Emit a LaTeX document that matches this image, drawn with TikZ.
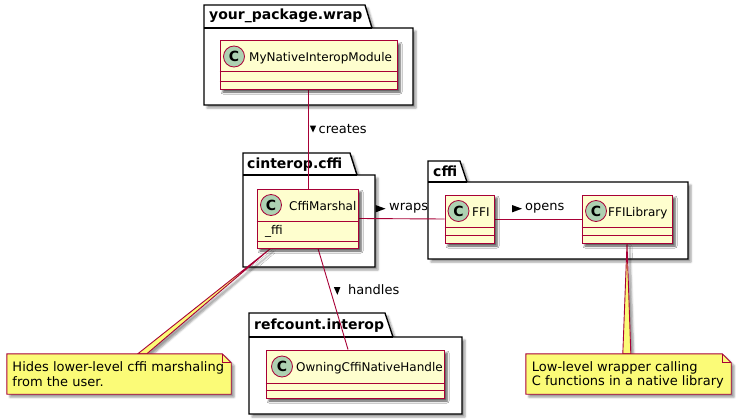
\documentclass[tikz,border=0pt]{standalone}
\usepackage{fontspec}
\setmainfont{DejaVu Sans}
\usetikzlibrary{calc,shadows.blur}
\definecolor{umlred}{HTML}{A80036}
\definecolor{clsfill}{HTML}{FEFECE}
\definecolor{circfill}{HTML}{ADD1B2}
\definecolor{notefill}{HTML}{FBFB77}
\tikzset{
 shd/.style={blur shadow={shadow xshift=3pt,shadow yshift=-3pt,shadow blur radius=2pt,shadow opacity=40}},
 pkgbox/.style={draw=black,line width=1.4pt,fill=white,shd},
 pkgline/.style={draw=black,line width=1.4pt},
 pkgtitle/.style={anchor=base west,inner sep=0,font=\fontsize{14}{16}\selectfont\bfseries},
 clsbox/.style={draw=umlred,line width=1pt,fill=clsfill,shd,inner sep=0,rectangle},
 circ/.style={circle,draw=umlred,line width=0.8pt,fill=circfill,minimum size=21pt,inner sep=0,font=\fontsize{14}{14}\selectfont\bfseries},
 clsname/.style={anchor=base west,inner sep=0,font=\fontsize{12}{14}\selectfont},
 sepline/.style={draw=umlred,line width=1pt},
 conn/.style={draw=umlred,line width=0.9pt},
 lbl/.style={anchor=base west,inner sep=0,font=\fontsize{13}{15}\selectfont},
 tri/.style={fill=black},
 noteshape/.style={draw=umlred,line width=0.9pt,fill=notefill,shd},
 noteregion/.style={draw=none,rectangle,inner sep=0},
 notetxt/.style={anchor=base west,inner sep=0,font=\fontsize{13}{15}\selectfont},
}
\begin{document}
\begin{tikzpicture}[x=1pt,y=-1pt]
\useasboundingbox (0,0) rectangle (736,420);

% packages
\filldraw[pkgbox] (204,5) -- (365,5) -- (372,28) -- (413,28) -- (413,105) -- (204,105) -- cycle;
\draw[pkgline] (204,28) -- (372,28);
\node[pkgtitle] (p1t) at (209,20) {your\_package.wrap};

\filldraw[pkgbox] (243,153) -- (350,153) -- (357,175) -- (375,175) -- (375,267) -- (243,267) -- cycle;
\draw[pkgline] (243,175) -- (357,175);
\node[pkgtitle] (p2t) at (247,168.5) {cinterop.cffi};

\filldraw[pkgbox] (428,161) -- (460,161) -- (467,182) -- (688,182) -- (688,259) -- (428,259) -- cycle;
\draw[pkgline] (428,182) -- (467,182);
\node[pkgtitle] (p3t) at (433,176) {cffi};

\filldraw[pkgbox] (249,313) -- (385,313) -- (393,337) -- (462,337) -- (462,414) -- (249,414) -- cycle;
\draw[pkgline] (249,337) -- (393,337);
\node[pkgtitle] (p4t) at (254,329) {refcount.interop};

% class boxes
\node[clsbox,minimum width=177pt,minimum height=48pt] (mn) at (308.5,65) {};
\node[clsbox,minimum width=101pt,minimum height=59pt] (cm) at (307.5,218.5) {};
\node[clsbox,minimum width=49pt,minimum height=48pt] (ffi) at (469.5,219) {};
\node[clsbox,minimum width=90pt,minimum height=48pt] (lib) at (627,219) {};
\node[clsbox,minimum width=178pt,minimum height=48pt] (oh) at (355,374) {};

% note regions
\node[noteregion,minimum width=224pt,minimum height=40pt] (n1) at (119,374) {};
\node[noteregion,minimum width=205pt,minimum height=40pt] (n2) at (628.5,374) {};

% connectors
\draw[conn] (mn.south) -- (mn.south |- cm.north);
\draw[conn] (cm.east) -- (ffi.west);
\draw[conn] (ffi.east) -- (lib.west);
\draw[conn] ($(cm.south)+(10.5,0)$) -- ($(oh.north)+(-7,0)$);

% note wedges
\filldraw[noteshape] ($(cm.south west)+(14,0)$) -- ($(n1.north west)+(131,0)$) -- ($(n1.north west)+(140,0)$) -- cycle;
\filldraw[noteshape] (lib.south) -- ($(n2.north west)+(97,0)$) -- ($(n2.north west)+(105,0)$) -- cycle;

% redraw class boxes on top
\node[clsbox,minimum width=177pt,minimum height=48pt] at (mn) {};
\node[clsbox,minimum width=101pt,minimum height=59pt] at (cm) {};
\node[clsbox,minimum width=49pt,minimum height=48pt] at (ffi) {};
\node[clsbox,minimum width=90pt,minimum height=48pt] at (lib) {};
\node[clsbox,minimum width=178pt,minimum height=48pt] at (oh) {};

% compartments
\draw[sepline] (mn.west |- 0,72) -- (mn.east |- 0,72);
\draw[sepline] (mn.west |- 0,81) -- (mn.east |- 0,81);
\draw[sepline] (cm.west |- 0,221) -- (cm.east |- 0,221);
\draw[sepline] (cm.west |- 0,241) -- (cm.east |- 0,241);
\draw[sepline] (ffi.west |- 0,227.3) -- (ffi.east |- 0,227.3);
\draw[sepline] (ffi.west |- 0,235.5) -- (ffi.east |- 0,235.5);
\draw[sepline] (lib.west |- 0,227.3) -- (lib.east |- 0,227.3);
\draw[sepline] (lib.west |- 0,235.5) -- (lib.east |- 0,235.5);
\draw[sepline] (oh.west |- 0,383) -- (oh.east |- 0,383);
\draw[sepline] (oh.west |- 0,390) -- (oh.east |- 0,390);

% circles and names
\node[circ] (mnc) at (234,56.5) {C};
\node[clsname] (mnt) at (249,61.5) {MyNativeInteropModule};
\node[circ] (cmc) at (271,205) {C};
\node[clsname] (cmt) at (289,210.5) {CffiMarshal};
\node[clsname] (cma) at (265,234) {\_ffi};
\node[circ] (ffic) at (458.5,211) {C};
\node[clsname] (ffit) at (472,216.5) {FFI};
\node[circ] (libc) at (596,211) {C};
\node[clsname] (libt) at (608,216.5) {FFILibrary};
\node[circ] (ohc) at (282,366.5) {C};
\node[clsname] (oht) at (296,371.5) {OwningCffiNativeHandle};

% labels
\fill[tri] (309.8,125.5) -- (316.2,125.5) -- (313,132.5) -- cycle;
\node[lbl] (l1) at (318.5,133.3) {creates};
\fill[tri] (375.5,205) -- (385.5,208.7) -- (375.5,212.4) -- cycle;
\node[lbl] (l2) at (389,210.5) {wraps};
\fill[tri] (512,205) -- (522,208.7) -- (512,212.4) -- cycle;
\node[lbl] (l3) at (525,210.5) {opens};
\fill[tri] (333.8,287) -- (340.4,287) -- (337.4,294.8) -- cycle;
\node[lbl] (l4) at (348,294.5) {handles};

% notes
\filldraw[noteshape] (n1.north west) -- ($(n1.north east)+(-9,0)$) -- ($(n1.north east)+(0,9)$) -- (n1.south east) -- (n1.south west) -- cycle;
\draw[umlred,line width=0.9pt] ($(n1.north east)+(-9,0)$) -- ($(n1.north east)+(-9,9)$) -- ($(n1.north east)+(0,9)$);
\node[notetxt] (n1a) at (12.3,371.7) {Hides lower-level cffi marshaling};
\node[notetxt] (n1b) at (12.3,386) {from the user.};

\filldraw[noteshape] (n2.north west) -- ($(n2.north east)+(-9,0)$) -- ($(n2.north east)+(0,9)$) -- (n2.south east) -- (n2.south west) -- cycle;
\draw[umlred,line width=0.9pt] ($(n2.north east)+(-9,0)$) -- ($(n2.north east)+(-9,9)$) -- ($(n2.north east)+(0,9)$);
\node[notetxt] (n2a) at (531.7,371) {Low-level wrapper calling};
\node[notetxt] (n2b) at (531.7,385.7) {C functions in a native library};
\end{tikzpicture}
\end{document}
